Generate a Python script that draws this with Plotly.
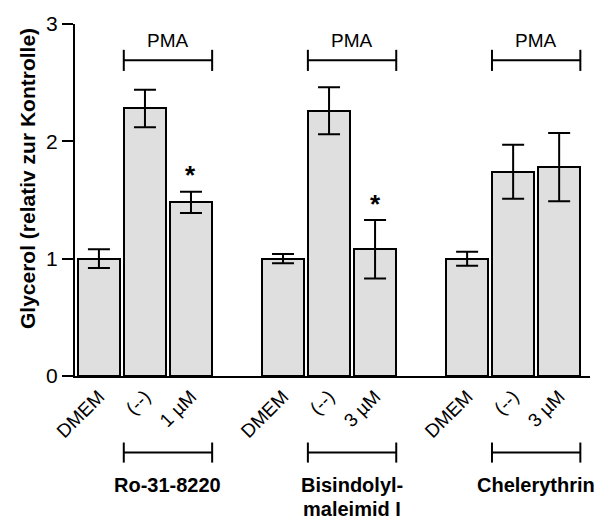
import plotly.graph_objects as go

groups = ["Ro-31-8220", "Bisindolyl-<br>maleimid I", "Chelerythrin"]
tick_labels = ["DMEM", "(--)", "1 µM", "DMEM", "(--)", "3 µM", "DMEM", "(--)", "3 µM"]
values = [1.00, 2.28, 1.48, 1.00, 2.26, 1.08, 1.00, 1.74, 1.78]
errors = [0.08, 0.16, 0.09, 0.04, 0.20, 0.25, 0.06, 0.23, 0.29]
significant = [False, False, True, False, False, True, False, False, False]
y_ticks = [0, 1, 2, 3]
y_title = "Glycerol (relativ zur Kontrolle)"

# positions: 3 bars per group, one empty slot between groups
xpos = [g * 4 + i for g in range(3) for i in range(3)]

FONT = "Arial, Liberation Sans, sans-serif"

fig = go.Figure()
fig.add_trace(go.Bar(
    x=xpos, y=values, width=0.92,
    marker=dict(color="white", line=dict(color="black", width=2),
                pattern=dict(shape=".", fgcolor="#9a9a9a", bgcolor="#f2f2f2",
                             size=2, solidity=0.5)),
    error_y=dict(type="data", array=errors, visible=True, color="black",
                 thickness=2, width=11),
    showlegend=False,
))

annotations = []
shapes = []
for k, (x, v, e, s) in enumerate(zip(xpos, values, errors, significant)):
    if s:
        annotations.append(dict(x=x, y=v + e + 0.14, xref="x", yref="y", text="<b>*</b>",
                                showarrow=False, yanchor="middle",
                                font=dict(family=FONT, size=26, color="black")))

for g, name in enumerate(groups):
    x0 = xpos[g * 3 + 1] - 0.46
    x1 = xpos[g * 3 + 2] + 0.46
    xc = (x0 + x1) / 2
    # PMA bracket
    shapes.append(dict(type="line", xref="x", yref="y", x0=x0, x1=x1, y0=2.69, y1=2.69,
                       line=dict(color="black", width=2)))
    for xx in (x0, x1):
        shapes.append(dict(type="line", xref="x", yref="y", x0=xx, x1=xx, y0=2.60, y1=2.78,
                           line=dict(color="black", width=2)))
    annotations.append(dict(x=xc, y=2.86, xref="x", yref="y", text="PMA", showarrow=False,
                            yanchor="middle",
                            font=dict(family=FONT, size=19, color="black")))
    # bottom bracket
    shapes.append(dict(type="line", xref="x", yref="paper", x0=x0, x1=x1, y0=-0.2175, y1=-0.2175,
                       line=dict(color="black", width=2)))
    for xx in (x0, x1):
        shapes.append(dict(type="line", xref="x", yref="paper", x0=xx, x1=xx, y0=-0.189, y1=-0.246,
                           line=dict(color="black", width=2)))
    for li, line in enumerate(name.split("<br>")):
        annotations.append(dict(x=xc, y=-0.311 - li * 0.068, xref="x", yref="paper",
                                text="<b>" + line + "</b>",
                                showarrow=False, yanchor="middle", align="center",
                                font=dict(family=FONT, size=20, color="black")))

# y-axis title (placed as rotated annotation to match reference position)
annotations.append(dict(x=-0.091, y=0.56, xref="paper", yref="paper", text="<b>" + y_title + "</b>",
                        textangle=-90, showarrow=False, xanchor="center", yanchor="middle",
                        font=dict(family=FONT, size=21, color="black")))

fig.update_layout(
    width=602, height=522,
    margin=dict(l=75, r=12, t=22, b=146),
    plot_bgcolor="white", paper_bgcolor="white",
    bargap=0,
    shapes=shapes, annotations=annotations,
    font=dict(family=FONT, color="black"),
    xaxis=dict(range=[-0.52, 10.67], tickvals=xpos, ticktext=tick_labels, tickangle=-45,
               showline=True, linecolor="black", linewidth=2, ticks="", showgrid=False,
               zeroline=False, tickfont=dict(family=FONT, size=19, color="black")),
    yaxis=dict(range=[0, 3], tickvals=y_ticks, showline=True, linecolor="black", linewidth=2,
               ticks="outside", ticklen=11, tickwidth=2, tickcolor="black", showgrid=False,
               zeroline=False, tickfont=dict(family=FONT, size=21, color="black")),
)

fig.write_html("out.html")
